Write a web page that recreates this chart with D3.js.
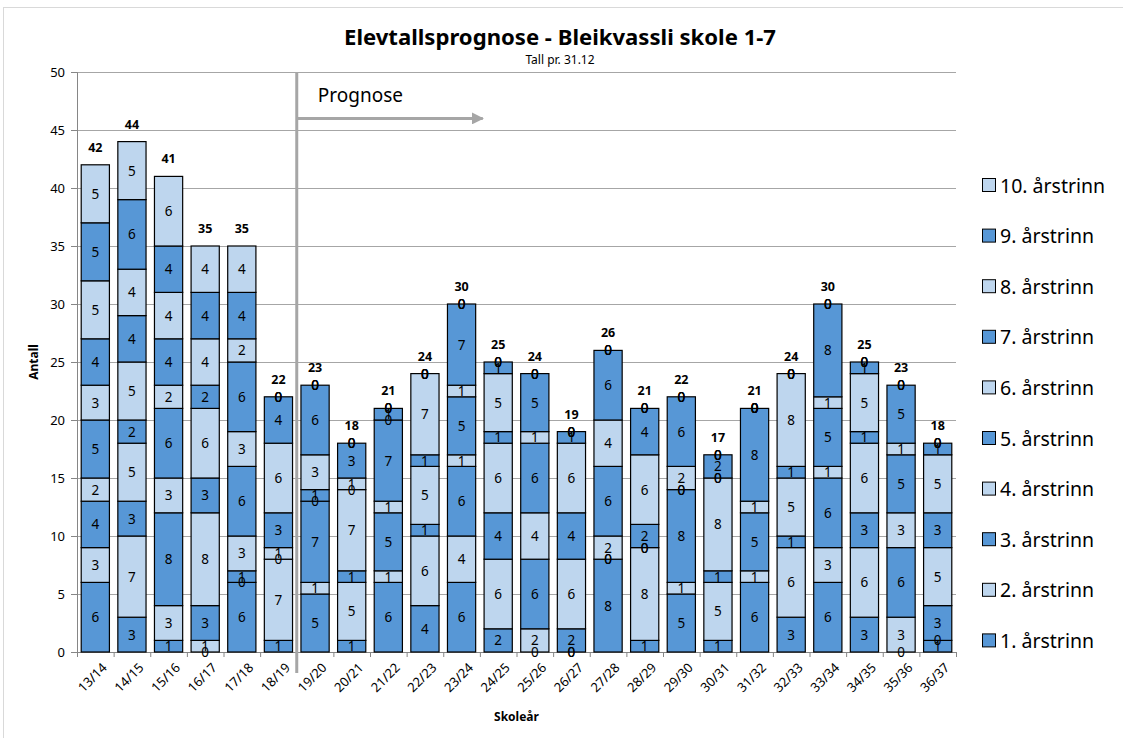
<!DOCTYPE html>
<html>
<head>
<meta charset="utf-8">
<script src="https://cdn.jsdelivr.net/npm/d3@7"></script>
<style>
  body { margin: 0; background: #fff; }
  text { font-family: "Noto Sans", "Open Sans", sans-serif; fill: #000; }
</style>
</head>
<body>
<svg id="chart" width="1123" height="738"></svg>
<script>
const categories = ['13/14','14/15','15/16','16/17','17/18','18/19','19/20','20/21','21/22','22/23','23/24','24/25',
  '25/26','26/27','27/28','28/29','29/30','30/31','31/32','32/33','33/34','34/35','35/36','36/37'];

const grade1  = [6,3,1,0,6,1,5,1,6,4,6,2,0,0,8,1,5,1,6,3,6,3,0,1];
const grade2  = [3,7,3,1,0,7,1,5,1,6,4,6,2,0,0,8,1,5,1,6,3,6,3,0];
const grade3  = [4,3,8,3,1,0,7,1,5,1,6,4,6,2,0,0,8,1,5,1,6,3,6,3];
const grade4  = [2,5,3,8,3,1,0,7,1,5,1,6,4,6,2,0,0,8,1,5,1,6,3,5];
const grade5  = [5,2,6,3,6,3,1,0,7,1,5,1,6,4,6,2,0,0,8,1,5,1,5,3];
const grade6  = [3,5,2,6,3,6,3,1,0,7,1,5,1,6,4,6,2,0,0,8,1,5,1,5];
const grade7  = [4,4,4,2,6,4,6,3,1,0,7,1,5,1,6,4,6,2,0,0,8,1,5,1];
const grade8  = [5,4,4,4,2,0,0,0,0,0,0,0,0,0,0,0,0,0,0,0,0,0,0,0];
const grade9  = [5,6,4,4,4,0,0,0,0,0,0,0,0,0,0,0,0,0,0,0,0,0,0,0];
const grade10 = [5,5,6,4,4,0,0,0,0,0,0,0,0,0,0,0,0,0,0,0,0,0,0,0];

const seriesNames = ['1. årstrinn','2. årstrinn','3. årstrinn','4. årstrinn','5. årstrinn',
  '6. årstrinn','7. årstrinn','8. årstrinn','9. årstrinn','10. årstrinn'];
const yTicks = [0,5,10,15,20,25,30,35,40,45,50];
const forecastStart = '19/20';

const gradeValues = [grade1, grade2, grade3, grade4, grade5, grade6, grade7, grade8, grade9, grade10];
const dark = '#5797d6', light = '#bed6ee';

const table = categories.map((c, i) => {
  const row = { cat: c };
  seriesNames.forEach((s, k) => row[s] = gradeValues[k][i]);
  return row;
});
const stacked = d3.stack().keys(seriesNames)(table);

const svg = d3.select('#chart');
const margin = { top: 72, left: 77, right: 167, bottom: 86 };
const width = 1123 - margin.left - margin.right;
const height = 738 - margin.top - margin.bottom;

// outer chart border
svg.append('rect').attr('x', 3.5).attr('y', 7.5).attr('width', 1130).attr('height', 740)
  .attr('fill', 'none').attr('stroke', '#d9d9d9');

const x = d3.scaleBand().domain(categories).range([0, width]).paddingInner(0.23).paddingOuter(0.115);
const y = d3.scaleLinear().domain([0, 50]).range([height, 0]);

const g = svg.append('g').attr('transform', 'translate(' + margin.left + ',' + margin.top + ')');

// gridlines
g.append('g').selectAll('line').data(yTicks.slice(1)).join('line')
  .attr('x1', 0).attr('x2', width)
  .attr('y1', d => y(d) + 0.5).attr('y2', d => y(d) + 0.5)
  .attr('stroke', '#a6a6a6').attr('stroke-width', 1);

// y axis
const yAxis = g.append('g').call(d3.axisLeft(y).tickValues(yTicks).tickSize(6).tickPadding(6));
yAxis.select('.domain').attr('stroke', '#868686');
yAxis.selectAll('.tick line').attr('stroke', '#868686');
yAxis.selectAll('.tick text').attr('font-size', 13);

// x axis ticks at category boundaries
const step = x.step();
const boundaries = d3.range(categories.length + 1).map(i => i * step);
g.append('line').attr('x1', 0).attr('x2', width).attr('y1', height + 0.5).attr('y2', height + 0.5)
  .attr('stroke', '#868686');
g.append('g').selectAll('line').data(boundaries).join('line')
  .attr('x1', d => d + 0.5).attr('x2', d => d + 0.5)
  .attr('y1', height).attr('y2', height + 5)
  .attr('stroke', '#868686');
g.append('g').selectAll('text').data(categories).join('text')
  .attr('transform', d => 'translate(' + (x(d) + x.bandwidth() / 2 + 9) + ',' + (height + 13) + ') rotate(-45)')
  .attr('text-anchor', 'end').attr('dominant-baseline', 'central')
  .attr('font-size', 13).text(d => d);

// bars
const layers = g.append('g').selectAll('g').data(stacked).join('g')
  .attr('fill', (d, i) => i % 2 === 0 ? dark : light);
layers.selectAll('rect').data(d => d).join('rect')
  .attr('x', d => x(d.data.cat))
  .attr('y', d => y(d[1]))
  .attr('width', x.bandwidth())
  .attr('height', d => y(d[0]) - y(d[1]))
  .attr('stroke', '#000').attr('stroke-width', 1.2);

// segment labels
g.append('g').selectAll('g').data(stacked).join('g')
  .selectAll('text').data(d => d).join('text')
  .attr('x', d => x(d.data.cat) + x.bandwidth() / 2)
  .attr('y', d => y((d[0] + d[1]) / 2))
  .attr('text-anchor', 'middle').attr('dominant-baseline', 'central')
  .attr('font-size', 13.5)
  .text(d => d[1] - d[0]);

// totals
g.append('g').selectAll('text').data(table).join('text')
  .attr('x', d => x(d.cat) + x.bandwidth() / 2)
  .attr('y', d => y(d3.sum(seriesNames, s => d[s])) - 13)
  .attr('text-anchor', 'middle').attr('font-size', 12.5).attr('font-weight', 'bold')
  .text(d => d3.sum(seriesNames, s => d[s]));

// forecast marker
const fx = x(forecastStart) - (step - x.bandwidth()) / 2;
g.append('line').attr('x1', fx).attr('x2', fx).attr('y1', 0).attr('y2', height + 21)
  .attr('stroke', '#a6a6a6').attr('stroke-width', 3);
svg.append('defs').append('marker').attr('id', 'arrow')
  .attr('viewBox', '0 0 10 10').attr('refX', 9).attr('refY', 5)
  .attr('markerWidth', 4).attr('markerHeight', 4).attr('orient', 'auto')
  .append('path').attr('d', 'M0,0L10,5L0,10z').attr('fill', '#a6a6a6');
g.append('line').attr('x1', fx + 1).attr('x2', fx + 186).attr('y1', y(46)).attr('y2', y(46))
  .attr('stroke', '#a6a6a6').attr('stroke-width', 3).attr('marker-end', 'url(#arrow)');
g.append('text').attr('x', fx + 21).attr('y', y(48)).attr('dominant-baseline', 'central')
  .attr('font-size', 19).text('Prognose');

// titles
svg.append('text').attr('x', 560).attr('y', 45).attr('text-anchor', 'middle')
  .attr('font-size', 21).attr('font-weight', 'bold').attr('textLength', 432).attr('lengthAdjust', 'spacingAndGlyphs')
  .text('Elevtallsprognose - Bleikvassli skole 1-7');
svg.append('text').attr('x', 560).attr('y', 64).attr('text-anchor', 'middle')
  .attr('font-size', 12).text('Tall pr. 31.12');
svg.append('text').attr('transform', 'translate(38,' + (margin.top + height / 2) + ') rotate(-90)')
  .attr('text-anchor', 'middle').attr('font-size', 12).attr('font-weight', 'bold').text('Antall');
svg.append('text').attr('x', margin.left + width / 2).attr('y', 721).attr('text-anchor', 'middle')
  .attr('font-size', 12).attr('font-weight', 'bold').text('Skoleår');

// legend
const legend = svg.append('g').selectAll('g').data(seriesNames.slice().reverse()).join('g')
  .attr('transform', (d, i) => 'translate(982,' + (185 + i * 50.6) + ')');
legend.append('rect').attr('x', 0.5).attr('y', -6.5).attr('width', 13).attr('height', 13)
  .attr('fill', d => seriesNames.indexOf(d) % 2 === 0 ? dark : light)
  .attr('stroke', '#000').attr('stroke-width', 1);
legend.append('text').attr('x', 18).attr('y', 0).attr('dominant-baseline', 'central')
  .attr('font-size', 19.5).text(d => d);
</script>
</body>
</html>
